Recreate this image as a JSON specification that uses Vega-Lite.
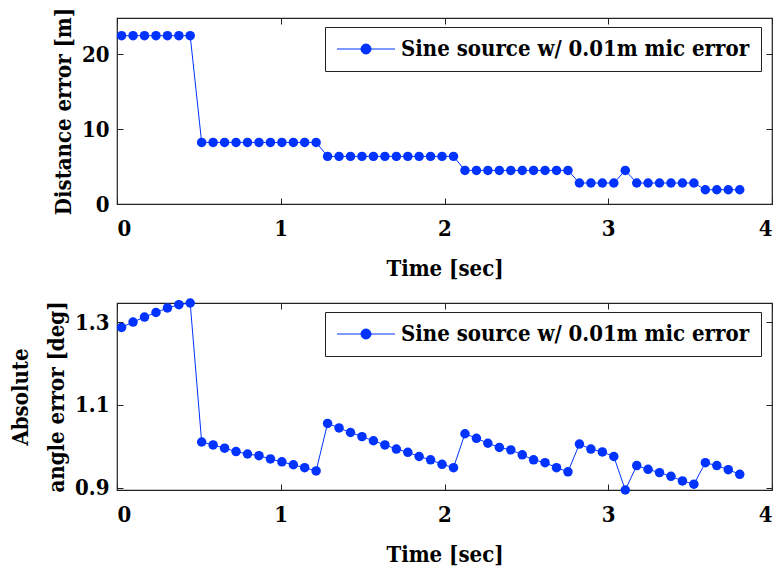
{
  "$schema": "https://vega.github.io/schema/vega-lite/v6.json",
  "background": "white",
  "padding": {"left": 8, "top": 6, "right": 4, "bottom": 0},
  "bounds": "flush",
  "spacing": 99,
  "config": {
    "font": "DejaVu Serif Condensed",
    "view": {"stroke": "#222", "strokeWidth": 1.2},
    "axis": {"domain": false, "grid": false, "labelFont": "DejaVu Serif Condensed", "labelFontSize": 22, "labelFontWeight": "bold", "labelColor": "#000", "titleFont": "DejaVu Serif Condensed", "titleFontSize": 22, "titleFontWeight": "bold", "titleColor": "#000", "tickColor": "#222", "tickSize": -6, "tickWidth": 1}
  },
  "data": {"values": [
    {"t": 0.028, "dist": 22.44, "ang": 1.287, "series": "Sine source w/ 0.01m mic error"},
    {"t": 0.098, "dist": 22.44, "ang": 1.300, "series": "Sine source w/ 0.01m mic error"},
    {"t": 0.168, "dist": 22.44, "ang": 1.312, "series": "Sine source w/ 0.01m mic error"},
    {"t": 0.238, "dist": 22.44, "ang": 1.323, "series": "Sine source w/ 0.01m mic error"},
    {"t": 0.308, "dist": 22.44, "ang": 1.334, "series": "Sine source w/ 0.01m mic error"},
    {"t": 0.378, "dist": 22.44, "ang": 1.342, "series": "Sine source w/ 0.01m mic error"},
    {"t": 0.447, "dist": 22.44, "ang": 1.346, "series": "Sine source w/ 0.01m mic error"},
    {"t": 0.517, "dist": 8.21, "ang": 1.010, "series": "Sine source w/ 0.01m mic error"},
    {"t": 0.587, "dist": 8.21, "ang": 1.003, "series": "Sine source w/ 0.01m mic error"},
    {"t": 0.657, "dist": 8.21, "ang": 0.995, "series": "Sine source w/ 0.01m mic error"},
    {"t": 0.727, "dist": 8.21, "ang": 0.987, "series": "Sine source w/ 0.01m mic error"},
    {"t": 0.797, "dist": 8.21, "ang": 0.981, "series": "Sine source w/ 0.01m mic error"},
    {"t": 0.867, "dist": 8.21, "ang": 0.977, "series": "Sine source w/ 0.01m mic error"},
    {"t": 0.937, "dist": 8.21, "ang": 0.969, "series": "Sine source w/ 0.01m mic error"},
    {"t": 1.007, "dist": 8.21, "ang": 0.962, "series": "Sine source w/ 0.01m mic error"},
    {"t": 1.077, "dist": 8.21, "ang": 0.955, "series": "Sine source w/ 0.01m mic error"},
    {"t": 1.146, "dist": 8.21, "ang": 0.948, "series": "Sine source w/ 0.01m mic error"},
    {"t": 1.216, "dist": 8.21, "ang": 0.940, "series": "Sine source w/ 0.01m mic error"},
    {"t": 1.286, "dist": 6.35, "ang": 1.055, "series": "Sine source w/ 0.01m mic error"},
    {"t": 1.356, "dist": 6.35, "ang": 1.044, "series": "Sine source w/ 0.01m mic error"},
    {"t": 1.426, "dist": 6.35, "ang": 1.033, "series": "Sine source w/ 0.01m mic error"},
    {"t": 1.496, "dist": 6.35, "ang": 1.023, "series": "Sine source w/ 0.01m mic error"},
    {"t": 1.566, "dist": 6.35, "ang": 1.013, "series": "Sine source w/ 0.01m mic error"},
    {"t": 1.636, "dist": 6.35, "ang": 1.003, "series": "Sine source w/ 0.01m mic error"},
    {"t": 1.706, "dist": 6.35, "ang": 0.993, "series": "Sine source w/ 0.01m mic error"},
    {"t": 1.776, "dist": 6.35, "ang": 0.985, "series": "Sine source w/ 0.01m mic error"},
    {"t": 1.845, "dist": 6.35, "ang": 0.975, "series": "Sine source w/ 0.01m mic error"},
    {"t": 1.915, "dist": 6.35, "ang": 0.967, "series": "Sine source w/ 0.01m mic error"},
    {"t": 1.985, "dist": 6.35, "ang": 0.956, "series": "Sine source w/ 0.01m mic error"},
    {"t": 2.055, "dist": 6.35, "ang": 0.948, "series": "Sine source w/ 0.01m mic error"},
    {"t": 2.125, "dist": 4.48, "ang": 1.030, "series": "Sine source w/ 0.01m mic error"},
    {"t": 2.195, "dist": 4.48, "ang": 1.019, "series": "Sine source w/ 0.01m mic error"},
    {"t": 2.265, "dist": 4.48, "ang": 1.007, "series": "Sine source w/ 0.01m mic error"},
    {"t": 2.335, "dist": 4.48, "ang": 0.997, "series": "Sine source w/ 0.01m mic error"},
    {"t": 2.405, "dist": 4.48, "ang": 0.991, "series": "Sine source w/ 0.01m mic error"},
    {"t": 2.475, "dist": 4.48, "ang": 0.979, "series": "Sine source w/ 0.01m mic error"},
    {"t": 2.544, "dist": 4.48, "ang": 0.967, "series": "Sine source w/ 0.01m mic error"},
    {"t": 2.614, "dist": 4.48, "ang": 0.960, "series": "Sine source w/ 0.01m mic error"},
    {"t": 2.684, "dist": 4.48, "ang": 0.948, "series": "Sine source w/ 0.01m mic error"},
    {"t": 2.754, "dist": 4.48, "ang": 0.938, "series": "Sine source w/ 0.01m mic error"},
    {"t": 2.824, "dist": 2.80, "ang": 1.005, "series": "Sine source w/ 0.01m mic error"},
    {"t": 2.894, "dist": 2.80, "ang": 0.993, "series": "Sine source w/ 0.01m mic error"},
    {"t": 2.964, "dist": 2.80, "ang": 0.986, "series": "Sine source w/ 0.01m mic error"},
    {"t": 3.034, "dist": 2.80, "ang": 0.975, "series": "Sine source w/ 0.01m mic error"},
    {"t": 3.104, "dist": 4.48, "ang": 0.894, "series": "Sine source w/ 0.01m mic error"},
    {"t": 3.174, "dist": 2.80, "ang": 0.953, "series": "Sine source w/ 0.01m mic error"},
    {"t": 3.243, "dist": 2.80, "ang": 0.944, "series": "Sine source w/ 0.01m mic error"},
    {"t": 3.313, "dist": 2.80, "ang": 0.936, "series": "Sine source w/ 0.01m mic error"},
    {"t": 3.383, "dist": 2.80, "ang": 0.927, "series": "Sine source w/ 0.01m mic error"},
    {"t": 3.453, "dist": 2.80, "ang": 0.916, "series": "Sine source w/ 0.01m mic error"},
    {"t": 3.523, "dist": 2.80, "ang": 0.908, "series": "Sine source w/ 0.01m mic error"},
    {"t": 3.593, "dist": 1.90, "ang": 0.960, "series": "Sine source w/ 0.01m mic error"},
    {"t": 3.663, "dist": 1.90, "ang": 0.953, "series": "Sine source w/ 0.01m mic error"},
    {"t": 3.733, "dist": 1.90, "ang": 0.943, "series": "Sine source w/ 0.01m mic error"},
    {"t": 3.803, "dist": 1.90, "ang": 0.932, "series": "Sine source w/ 0.01m mic error"}
  ]},
  "vconcat": [
    {
      "width": 655, "height": 186,
      "layer": [
        {
          "mark": {"type": "line", "strokeWidth": 1, "point": {"filled": true, "size": 90}},
          "encoding": {
            "x": {"field": "t", "type": "quantitative", "scale": {"domain": [0, 4], "nice": false, "zero": false}, "axis": {"orient": "bottom", "values": [0, 1, 2, 3, 4], "format": "d", "title": "Time [sec]", "labelPadding": 20, "titlePadding": 19}},
            "y": {"field": "dist", "type": "quantitative", "scale": {"domain": [0, 24.8], "nice": false}, "axis": {"orient": "left", "values": [0, 10, 20], "title": "Distance error [m]", "labelPadding": 14, "titlePadding": 6}},
            "color": {"field": "series", "type": "nominal", "scale": {"range": ["#0033ff"]}, "legend": {"title": null, "orient": "none", "legendX": 208, "legendY": 9, "strokeColor": "#222", "fillColor": "white", "padding": 11, "cornerRadius": 0, "symbolType": "M -2.9 0 L 2.9 0 M 0.5 0 A 0.5 0.5 0 1 1 -0.5 0 A 0.5 0.5 0 1 1 0.5 0 Z", "symbolSize": 400, "symbolOffset": 19, "symbolStrokeWidth": 1, "symbolFillColor": "#0033ff", "symbolStrokeColor": "#0033ff", "labelFont": "DejaVu Serif Condensed", "labelFontSize": 22, "labelFontWeight": "bold", "labelColor": "#000", "labelOffset": 24, "labelLimit": 0}}
          }
        },
        {
          "mark": {"type": "point", "opacity": 0},
          "encoding": {
            "x": {"field": "t", "type": "quantitative", "scale": {"domain": [0, 4], "nice": false, "zero": false}, "axis": {"orient": "top", "values": [0, 1, 2, 3, 4], "labels": false, "title": null}},
            "y": {"field": "dist", "type": "quantitative", "scale": {"domain": [0, 24.8], "nice": false}, "axis": {"orient": "right", "values": [0, 10, 20], "labels": false, "title": null}}
          }
        }
      ]
    },
    {
      "width": 655, "height": 187,
      "layer": [
        {
          "mark": {"type": "line", "strokeWidth": 1, "point": {"filled": true, "size": 90}},
          "encoding": {
            "x": {"field": "t", "type": "quantitative", "scale": {"domain": [0, 4], "nice": false, "zero": false}, "axis": {"orient": "bottom", "values": [0, 1, 2, 3, 4], "format": "d", "title": "Time [sec]", "labelPadding": 20, "titlePadding": 19}},
            "y": {"field": "ang", "type": "quantitative", "scale": {"domain": [0.894, 1.346], "nice": false, "zero": false}, "axis": {"orient": "left", "values": [0.9, 1.1, 1.3], "format": ".1f", "title": ["Absolute", "angle error [deg]"], "titleLineHeight": 36, "labelPadding": 14, "titlePadding": 6}},
            "color": {"field": "series", "type": "nominal", "scale": {"range": ["#0033ff"]}, "legend": {"title": null, "orient": "none", "legendX": 208, "legendY": 9, "strokeColor": "#222", "fillColor": "white", "padding": 11, "cornerRadius": 0, "symbolType": "M -2.9 0 L 2.9 0 M 0.5 0 A 0.5 0.5 0 1 1 -0.5 0 A 0.5 0.5 0 1 1 0.5 0 Z", "symbolSize": 400, "symbolOffset": 19, "symbolStrokeWidth": 1, "symbolFillColor": "#0033ff", "symbolStrokeColor": "#0033ff", "labelFont": "DejaVu Serif Condensed", "labelFontSize": 22, "labelFontWeight": "bold", "labelColor": "#000", "labelOffset": 24, "labelLimit": 0}}
          }
        },
        {
          "mark": {"type": "point", "opacity": 0},
          "encoding": {
            "x": {"field": "t", "type": "quantitative", "scale": {"domain": [0, 4], "nice": false, "zero": false}, "axis": {"orient": "top", "values": [0, 1, 2, 3, 4], "labels": false, "title": null}},
            "y": {"field": "ang", "type": "quantitative", "scale": {"domain": [0.894, 1.346], "nice": false, "zero": false}, "axis": {"orient": "right", "values": [0.9, 1.1, 1.3], "labels": false, "title": null}}
          }
        }
      ]
    }
  ],
  "resolve": {"scale": {"x": "independent", "y": "independent", "color": "independent"}, "legend": {"color": "independent"}}
}
